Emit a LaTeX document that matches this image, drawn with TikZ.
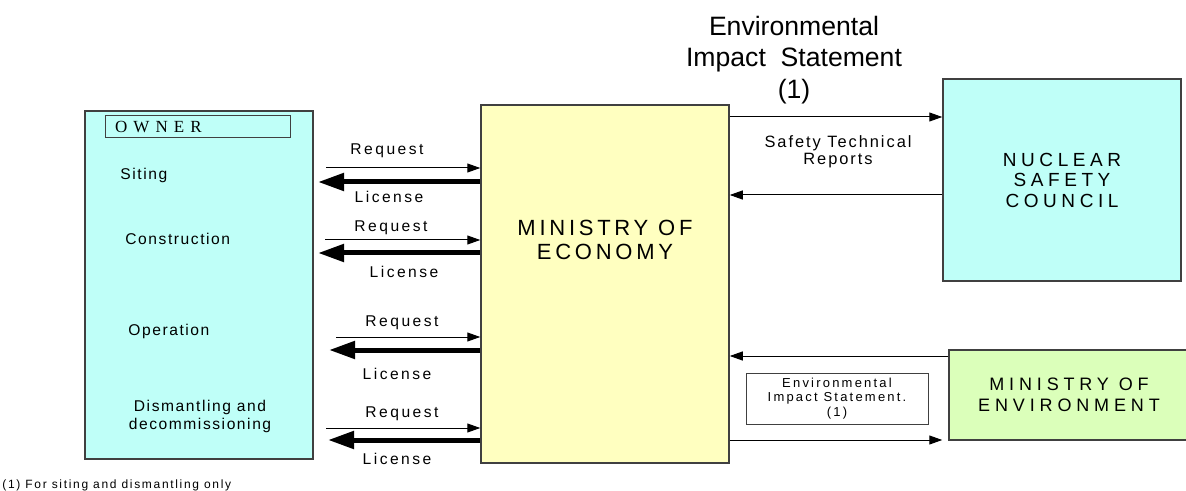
\documentclass[tikz,border=0pt]{standalone}
\usepackage{fontspec}
\setmainfont{Liberation Sans}
\newfontfamily\ownerfont{Liberation Serif}
\usetikzlibrary{arrows.meta}

\definecolor{owncyan}{HTML}{BFFFF8}
\definecolor{ecoyellow}{HTML}{FFFFC0}
\definecolor{envgreen}{HTML}{DBFFBA}
\definecolor{edgegray}{HTML}{404040}

\tikzset{
  box/.style={draw=edgegray, line width=0.75pt, inner sep=0pt, align=center},
  req/.style={-{Triangle[length=6.5pt,width=4.5pt]}, line width=0.5pt},
  lic/.style={-{Triangle[length=13pt,width=8.5pt]}, line width=2.5pt},
  small/.style={font={\fontsize{7.8}{9}\selectfont\addfontfeature{LetterSpace=16}}},
  stage/.style={align=center, inner sep=0pt,
    font={\fontsize{7.8}{9}\selectfont\addfontfeature{LetterSpace=10}}},
}

\begin{document}
\begin{tikzpicture}[x=0.5pt, y=-0.5pt]
\useasboundingbox (0,0) rectangle (1186,491);

% owner and its stages
\node[box, fill=owncyan, minimum width=114pt, minimum height=174pt] (own) at (199,285) {};
\node[draw=edgegray, line width=0.5pt, inner xsep=5pt, inner ysep=0pt,
      minimum height=11pt, text width=82.5pt, align=left,
      font={\ownerfont\fontsize{8.5}{9}\selectfont\addfontfeature{LetterSpace=36}}]
      (ownlbl) at (197.5,127) {OWNER};
\node[stage, anchor=west] (sit) at (120,175) {Siting};
\node[stage, anchor=west] (con) at (125,239) {Construction};
\node[stage, anchor=west] (ope) at (128,331) {Operation};
\node[stage] (dis) at (200,416) {Dismantling and\\decommissioning};

% ministries and council
\node[box, fill=ecoyellow, minimum width=124pt, minimum height=179pt] (eco) at (605,284) {};
\node[align=center, font={\fontsize{11}{12}\selectfont\addfontfeature{LetterSpace=17}}]
      (ecotxt) at (605,240) {MINISTRY OF\\ECONOMY};
\node[box, fill=owncyan, minimum width=119pt, minimum height=101pt,
      font={\fontsize{9.5}{10.25}\selectfont\addfontfeature{LetterSpace=24}}]
      (nsc) at (1062,180) {NUCLEAR\\SAFETY\\COUNCIL};
\node[box, fill=envgreen, minimum width=120pt, minimum height=45pt,
      font={\fontsize{9}{10.5}\selectfont\addfontfeature{LetterSpace=27}}]
      (env) at (1069,395) {MINISTRY OF\\ENVIRONMENT};

% statements
\node[align=center, font=\fontsize{13.3}{15.8}\selectfont] (eistop) at (794,60)
      {Environmental\\Impact~~Statement\\(1)};
\node[align=center, font={\fontsize{8.2}{8.5}\selectfont\addfontfeature{LetterSpace=12}}]
      (str) at (838,151.5) {Safety Technical\\Reports};
\node[draw=edgegray, line width=0.5pt, fill=white, inner sep=0pt, align=center,
      minimum width=91pt, minimum height=25.5pt,
      font={\fontsize{6.5}{7.2}\selectfont\addfontfeature{LetterSpace=17}}]
      (eisbox) at (837,398.5) {Environmental\\Impact Statement.\\(1)};

% links to the council and the environment ministry
\draw[req] (eco.east |- 0,117) -- (nsc.west |- 0,117);
\draw[req] (nsc.west |- 0,195) -- (eco.east |- 0,195);
\draw[req] (env.west |- 0,356) -- (eco.east |- 0,356);
\draw[req, shorten >=3pt] (eco.east |- 0,440) -- (env.west |- 0,440);

% requests and licenses
\foreach \yq/\yr/\yc/\yl/\xr/\xc/\xq/\xl in {
    151/168/182/197/326/318/387/389,
    228/240/253/272/325/318/391/404,
    323/337/350/374/336/329/402/397,
    414/428/440/459/326/328/402/397}{
  \coordinate (rq\yr) at (\xr,\yr);
  \coordinate (lc\yc) at (\xc,\yc);
  \draw[req] (rq\yr) -- (eco.west |- rq\yr);
  \draw[lic] (eco.west |- lc\yc) -- (lc\yc);
  \node[small] (reqtxt\yq) at (\xq,\yq) {Request};
  \node[small] (lictxt\yl) at (\xl,\yl) {License};
}

\node[anchor=west, inner sep=0pt,
      font={\fontsize{6}{7}\selectfont\addfontfeature{LetterSpace=14}}]
      (note) at (2,485) {(1) For siting and dismantling only};
\end{tikzpicture}
\end{document}
